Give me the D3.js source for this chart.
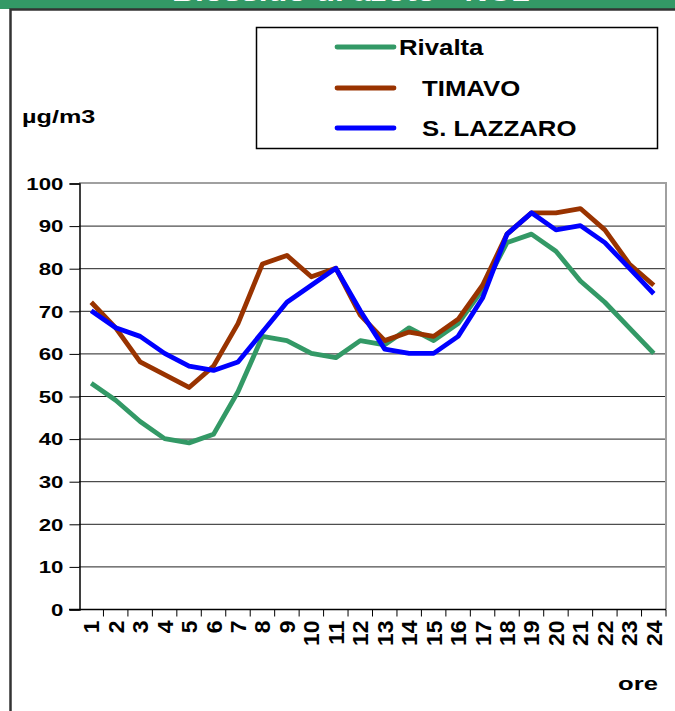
<!DOCTYPE html>
<html>
<head>
<meta charset="utf-8">
<script src="https://cdn.jsdelivr.net/npm/d3@7"></script>
<style>
  body { margin: 0; background: #fff; }
  svg { display: block; font-family: "Liberation Sans", Arial, sans-serif; font-weight: bold; }
</style>
</head>
<body>
<svg></svg>
<script>
// size of the page
var width = 675;
var height = 711;

// data (hourly means, ug/m3)
var hours = d3.range(1, 25).map(String);
var rivalta = [53, 49, 44, 40, 39, 41, 51, 64, 63, 60, 59, 63, 62, 66, 63, 67, 75, 86, 88, 84, 77, 72, 66, 60];
var timavo = [72, 66, 58, 55, 52, 57, 67, 81, 83, 78, 80, 69, 63, 65, 64, 68, 76, 88, 93, 93, 94, 89, 81, 76];
var lazzaro = [70, 66, 64, 60, 57, 56, 58, 65, 72, 76, 80, 70, 61, 60, 60, 64, 73, 88, 93, 89, 90, 86, 80, 74];
var yTicks = [0, 10, 20, 30, 40, 50, 60, 70, 80, 90, 100];

var series = [
    { name: "Rivalta", values: rivalta, color: "#339966" },
    { name: "TIMAVO", values: timavo, color: "#993300" },
    { name: "S. LAZZARO", values: lazzaro, color: "#0000ff" }
];

// the old picture is stretched sideways, text too
var stretch = 1.35;

var svg = d3.select("svg")
    .attr("width", width)
    .attr("height", height);

// green title band, mostly cut off at the top
svg.append("rect")
    .attr("x", 0).attr("y", 0)
    .attr("width", width).attr("height", 9)
    .attr("fill", "#339966");

svg.append("text")
    .attr("x", 172)
    .attr("y", 1)
    .attr("textLength", 358)
    .attr("lengthAdjust", "spacingAndGlyphs")
    .style("font-size", "26px")
    .attr("fill", "#fff")
    .text("Biossido di azoto - NO2");

// outer frame (runs past the page edges)
svg.append("path")
    .attr("d", "M10.5," + (height + 5) + "V9.5H" + (width + 5))
    .attr("fill", "none")
    .attr("stroke", "#333")
    .attr("stroke-width", 2.5);

// scales
var x = d3.scaleBand()
    .domain(hours)
    .range([79, 666]);

var y = d3.scaleLinear()
    .domain([0, 100])
    .range([609, 183]);

// gridlines
svg.append("g")
    .selectAll("line")
    .data(yTicks.slice(1, -1))
    .enter().append("line")
    .attr("x1", 79).attr("x2", 666)
    .attr("y1", function(d) { return y(d) + 0.5; })
    .attr("y2", function(d) { return y(d) + 0.5; })
    .attr("stroke", "#222")
    .attr("stroke-width", 1);

// top and right of plot area in grey
svg.append("path")
    .attr("d", "M79," + y(100) + "H666V" + y(0))
    .attr("fill", "none")
    .attr("stroke", "#a0a0a0")
    .attr("stroke-width", 2);

// y axis
var yAxis = svg.append("g")
    .attr("transform", "translate(79.5,0.5)")
    .call(d3.axisLeft(y).tickValues(yTicks).tickSize(10).tickPadding(6));
yAxis.select(".domain").attr("stroke", "#000").attr("stroke-width", 1.5);
yAxis.selectAll(".tick line").attr("stroke", "#000");
yAxis.selectAll(".tick text")
    .attr("x", null).attr("dy", null)
    .style("font-size", "16.5px")
    .style("font-family", "Liberation Sans, Arial, sans-serif")
    .style("font-weight", "bold")
    .attr("fill", "#000")
    .attr("text-anchor", "end")
    .attr("dominant-baseline", "central")
    .attr("transform", "translate(-16,0) scale(" + stretch + ",1)");

// x axis, ticks between the hours
var xAxis = svg.append("g")
    .attr("transform", "translate(0," + (y(0) + 0.5) + ")");
xAxis.append("line")
    .attr("x1", 69).attr("x2", 666)
    .attr("stroke", "#000").attr("stroke-width", 1.5);
xAxis.selectAll(".tk")
    .data(hours)
    .enter().append("line")
    .attr("class", "tk")
    .attr("x1", function(d) { return x(d) + x.bandwidth(); })
    .attr("x2", function(d) { return x(d) + x.bandwidth(); })
    .attr("y1", 0).attr("y2", 7)
    .attr("stroke", "#000");
xAxis.selectAll("text")
    .data(hours)
    .enter().append("text")
    .attr("text-anchor", "end")
    .attr("dominant-baseline", "central")
    .style("font-size", "17px")
    .attr("transform", function(d) {
        return "translate(" + (x(d) + x.bandwidth() / 2) + ",11) scale(" + stretch + ",1.35) rotate(-90)";
    })
    .text(function(d) { return d; });

// lines
var line = d3.line()
    .x(function(d, i) { return x(hours[i]) + x.bandwidth() / 2; })
    .y(function(d) { return y(d); });

svg.append("g")
    .selectAll("path")
    .data(series)
    .enter().append("path")
    .attr("d", function(d) { return line(d.values); })
    .attr("fill", "none")
    .attr("stroke", function(d) { return d.color; })
    .attr("stroke-width", 4.8)
    .attr("stroke-linejoin", "round");

// axis titles
svg.append("text")
    .attr("transform", "translate(22,123) scale(1.4,1)")
    .style("font-size", "18px")
    .text("\u00b5g/m3");

svg.append("text")
    .attr("transform", "translate(658,690) scale(" + stretch + ",1)")
    .attr("text-anchor", "end")
    .style("font-size", "19px")
    .text("ore");

// legend
var legend = svg.append("g");
legend.append("rect")
    .attr("x", 256.5).attr("y", 27.5)
    .attr("width", 401).attr("height", 121)
    .attr("fill", "#fff")
    .attr("stroke", "#000")
    .attr("stroke-width", 1.5);

var legendY = [47, 88, 128];
var legendX = [399, 422, 422];

var item = legend.selectAll(".item")
    .data(series)
    .enter().append("g")
    .attr("class", "item");

item.append("line")
    .attr("x1", 337).attr("x2", 394)
    .attr("y1", function(d, i) { return legendY[i]; })
    .attr("y2", function(d, i) { return legendY[i]; })
    .attr("stroke", function(d) { return d.color; })
    .attr("stroke-width", 4.8)
    .attr("stroke-linecap", "round");

item.append("text")
    .attr("dominant-baseline", "central")
    .style("font-size", "23px")
    .attr("transform", function(d, i) {
        return "translate(" + legendX[i] + "," + legendY[i] + ") scale(1.12,1)";
    })
    .text(function(d) { return d.name; });
</script>
</body>
</html>
